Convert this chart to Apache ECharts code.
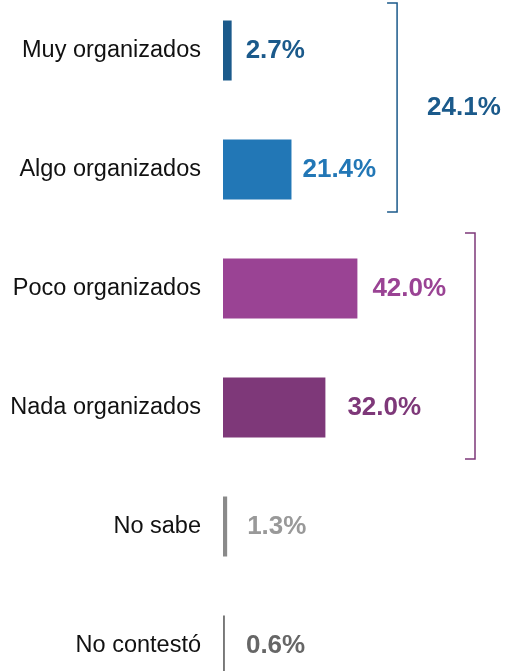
<!DOCTYPE html>
<html>
<head>
<meta charset="utf-8">
<script src="https://cdn.jsdelivr.net/npm/echarts@6/dist/echarts.min.js"></script>
<style>
  html, body { margin: 0; padding: 0; background: #fff; }
  #chart { width: 510px; height: 671px; }
</style>
</head>
<body>
<div id="chart"></div>
<script>
// datos
var categorias = ['Muy organizados', 'Algo organizados', 'Poco organizados', 'Nada organizados', 'No sabe', 'No contestó'];
var valores = [2.7, 21.4, 42.0, 32.0, 1.3, 0.6];
var etiquetas = ['2.7%', '21.4%', '42.0%', '32.0%', '1.3%', '0.6%'];
var coloresBarra = ['#1b5a8b', '#2277b6', '#9a4394', '#7e3879', '#8a8a8a', '#777777'];
var coloresTexto = ['#1b5a8b', '#2277b6', '#9a4394', '#7e3879', '#999999', '#666666'];
// llaves: [desde, hasta], texto
var llaveDesde = [0, 2];
var llaveHasta = [1, 3];
var llaveTexto = ['24.1%', ''];
var llaveColor = ['#1b5a8b', '#7e3879'];

var myChart = echarts.init(document.getElementById('chart'));

var separacion = [14, 11, 15, 22, 20, 21];
var datos = valores.map(function (v, i) {
  return {
    value: v,
    itemStyle: { color: coloresBarra[i] },
    label: { color: coloresTexto[i], formatter: etiquetas[i], distance: separacion[i] }
  };
});

myChart.setOption({
  animation: false,
  textStyle: { fontFamily: 'Liberation Sans, Arial, sans-serif' },
  grid: { left: 223, top: -9, width: 320, height: 714, outerBoundsMode: 'none', containLabel: false },
  xAxis: {
    type: 'value', min: 0, max: 100, show: false
  },
  yAxis: {
    type: 'category',
    data: categorias,
    inverse: true,
    axisLine: { show: false },
    axisTick: { show: false },
    axisLabel: { margin: 22, fontSize: 23.5, color: '#111' }
  },
  series: [{
    type: 'bar',
    data: datos,
    barWidth: 60,
    barMinWidth: 3,
    label: {
      show: true,
      position: 'right',
      fontSize: 26,
      fontWeight: 'bold'
    }
  }]
});

// dibujar las llaves
var pos = function (v, c) { return myChart.convertToPixel({ gridIndex: 0 }, [v, c]); };
var grafs = [];
var llaveX = [54.4, 78.75];
var arriba = [47.5, 55.5];
var abajo = [42.5, 51.5];
for (var k = 0; k < llaveDesde.length; k++) {
  var p1 = pos(llaveX[k], llaveDesde[k]);
  var p2 = pos(llaveX[k], llaveHasta[k]);
  var y1 = p1[1] - arriba[k], y2 = p2[1] + abajo[k], x = p1[0];
  grafs.push({
    type: 'polyline',
    shape: { points: [[x - 10, y1], [x, y1], [x, y2], [x - 10, y2]] },
    style: { stroke: llaveColor[k], lineWidth: 1.5, fill: null }
  });
  if (llaveTexto[k]) {
    grafs.push({
      type: 'text',
      x: x + 30, y: (y1 + y2) / 2,
      style: {
        text: llaveTexto[k], fill: llaveColor[k], fontSize: 26, fontWeight: 'bold',
        fontFamily: 'Liberation Sans, Arial, sans-serif', verticalAlign: 'middle'
      }
    });
  }
}
myChart.setOption({ graphic: grafs });
</script>
</body>
</html>
